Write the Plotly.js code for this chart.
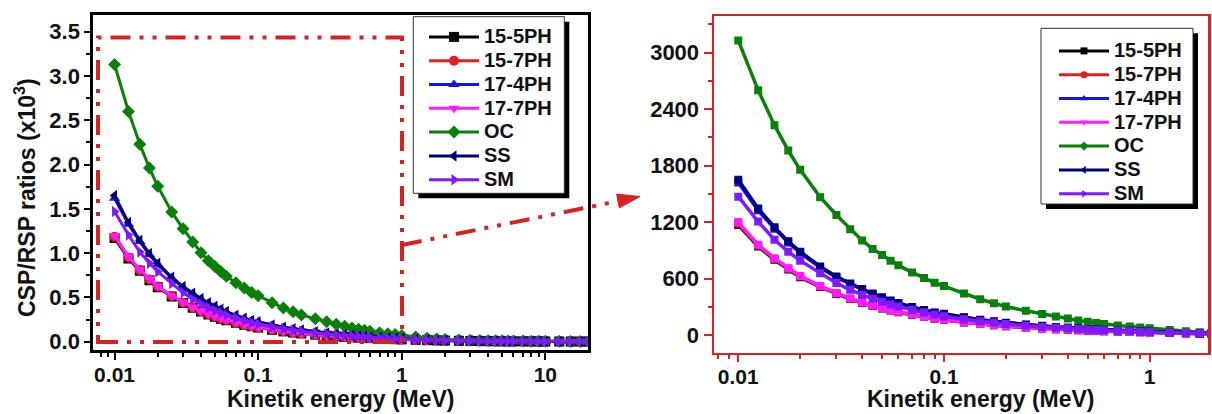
<!DOCTYPE html>
<html>
<head>
<meta charset="utf-8">
<script src="https://cdn.plot.ly/plotly-3.0.1.min.js"></script>
<style>html,body{margin:0;padding:0;background:#fff;}#chart{width:1212px;height:414px;}</style>
</head>
<body>
<div id="chart"></div>
<script>
// Kinetic energy (MeV)
const energy = [0.01,0.0125,0.015,0.0175,0.02,0.025,0.03,0.035,0.04,0.045,0.05,0.055,0.06,0.07,0.08,0.09,0.1,0.125,0.15,0.175,0.2,0.25,0.3,0.35,0.4,0.45,0.5,0.55,0.6,0.7,0.8,0.9,1,1.25,1.5,1.75,2,2.5,3,3.5,4,4.5,5,5.5,6,7,8,9,10,12.5,15,17.5,20];

// CSP/RSP ratios
const s155PH = [1170,940,800,695,615,510,436,382,340,308,282,260,242,213,190,173,159,134,116,103,93,79,68,60,54,50,46,43,40,35,31,28,25.5,20.5,17,14.5,12.7,9.8,8.1,6.9,6.0,5.4,4.8,4.4,4.0,3.4,3.0,2.7,2.4,2.0,1.75,1.55,1.4];
const s157PH = [1185,950,808,703,622,515,440,386,344,311,285,263,245,215,192,175,161,135,117,104,94,80,69,61,55,50,46.5,43.5,40.5,35.5,31.5,28.5,25.8,20.8,17.2,14.8,12.8,9.9,8.2,7.0,6.1,5.4,4.85,4.45,4.05,3.45,3.05,2.75,2.45,2.05,1.77,1.57,1.4];
const s174PH = [1620,1325,1130,982,873,718,612,540,480,433,394,362,335,293,261,236,221,185,160,142,128,109,95,84,76,69,63.5,58.5,54.5,48,43,39,35,28,23.5,19.5,16.5,13,10.8,9.3,8.1,7.2,6.5,5.9,5.4,4.7,4.1,3.7,3.3,2.7,2.3,2.05,1.85];
const s177PH = [1200,960,815,710,628,520,445,390,348,315,288,266,248,218,195,177,163,137,119,106,96,81,70,62,56,51,47,44,41,36,32,29,26,21,17.5,15,13,10,8.3,7.1,6.2,5.5,4.9,4.5,4.1,3.5,3.1,2.8,2.5,2.1,1.8,1.6,1.4];
const sOC   = [3130,2600,2230,1960,1755,1465,1275,1125,1005,915,850,790,740,665,605,555,520,440,380,337,302,258,224,196,174,155,141,128,118,102,90,80,71,53,40,30,24,19,15.5,13,11.5,10.2,9.2,8.4,7.7,6.7,5.9,5.3,4.8,3.9,3.3,2.9,2.6];
const sSS   = [1650,1345,1145,995,885,728,622,548,488,440,400,367,340,297,265,240,225,188,163,145,131,111,97,86,78,71,65,60,56,49,44,40,36,27,21,17,14.5,11.5,9.6,8.3,7.3,6.5,5.9,5.4,5.0,4.3,3.8,3.4,3.1,2.6,2.2,1.95,1.75];
const sSM   = [1470,1205,1012,885,790,656,552,480,426,385,352,325,302,266,238,216,200,168,146,130,117,99,86,76,69,63,58,54,50,44,39,35,32,25,20,16.5,14,11,9.2,7.9,7.0,6.3,5.7,5.2,4.8,4.1,3.6,3.3,3.0,2.5,2.1,1.9,1.7];

const seriesNames   = ['15-5PH','15-7PH','17-4PH','17-7PH','OC','SS','SM'];
const seriesValues  = [s155PH, s157PH, s174PH, s177PH, sOC, sSS, sSM];
const seriesColors  = ['#000000','#e01e1e','#1414e6','#ff1aff','#0a800a','#00007a','#7f1aff'];
const seriesSymbols = ['square','circle','triangle-up','triangle-down','diamond','triangle-left','triangle-right'];

const xTickVals = [0.01, 0.1, 1, 10];
const xTickText = ['0.01', '0.1', '1', '10'];

const W = 1212, H = 414;
const px = v => v / W;
const py = v => 1 - v / H;
const FONT = 'Liberation Sans, Arial, sans-serif';
const RED = '#d82222';

const legendName = n => '<span style="font-size:20px">' + n + '</span>';

const traces = [];
// left panel (values in x10^3)
seriesNames.forEach((n, i) => {
  traces.push({
    type: 'scatter', mode: 'lines+markers', name: legendName(n),
    x: energy, y: seriesValues[i].map(v => v / 1000),
    xaxis: 'x', yaxis: 'y', legend: 'legend',
    line: {color: seriesColors[i], width: 3},
    marker: {symbol: seriesSymbols[i], size: 10, color: seriesColors[i]}
  });
});
// right panel
seriesNames.forEach((n, i) => {
  traces.push({
    type: 'scatter', mode: 'lines+markers', name: n, showlegend: false,
    x: energy, y: seriesValues[i],
    xaxis: 'x2', yaxis: 'y2',
    line: {color: seriesColors[i], width: 3.5},
    marker: {symbol: 'square', size: 8, color: seriesColors[i]}
  });
});
// right legend entries
seriesNames.forEach((n, i) => {
  traces.push({
    type: 'scatter', mode: 'lines+markers', name: legendName(n),
    x: [null], y: [null], xaxis: 'x2', yaxis: 'y2', legend: 'legend2',
    line: {color: seriesColors[i], width: 3},
    marker: {symbol: seriesSymbols[i], size: 7, color: seriesColors[i]}
  });
});

const tickFont = {family: FONT, size: 22, color: '#111', weight: 'bold'};
const xTickFont = {family: FONT, size: 21, color: '#111', weight: 'bold'};
const titleFont = {family: FONT, size: 23, color: '#111', weight: 'bold'};

const dashPat = '20px,9px,4px,9px,4px,9px';

const shapes = [
  // dash-dot zoom rectangle
  {type: 'rect', xref: 'paper', yref: 'paper', x0: px(98), x1: px(402), y0: py(342), y1: py(37.5),
   line: {color: RED, width: 4, dash: dashPat}, layer: 'above'},
  {type: 'line', xref: 'paper', yref: 'paper', x0: px(402), y0: py(245), x1: px(624), y1: py(200),
   line: {color: RED, width: 4, dash: dashPat}, layer: 'above'},
  {type: 'path', xref: 'paper', yref: 'paper', layer: 'above',
   path: 'M' + px(640) + ',' + py(196.5) + ' L' + px(619.4) + ',' + py(207.9) + ' L' + px(616.6) + ',' + py(194.1) + ' Z',
   fillcolor: RED, line: {color: RED, width: 1}},
  // left legend box with shadow
  {type: 'rect', xref: 'paper', yref: 'paper', x0: px(418.3), x1: px(569.3), y0: py(198.3), y1: py(21.7),
   fillcolor: '#000', line: {width: 0}, layer: 'above'},
  {type: 'rect', xref: 'paper', yref: 'paper', x0: px(413.3), x1: px(564.3), y0: py(193.3), y1: py(16.7),
   fillcolor: '#fff', line: {color: '#333', width: 1}, layer: 'above'},
  // right legend box with shadow
  {type: 'rect', xref: 'paper', yref: 'paper', x0: px(1046), x1: px(1198), y0: py(209), y1: py(33.3),
   fillcolor: '#000', line: {width: 0}, layer: 'above'},
  {type: 'rect', xref: 'paper', yref: 'paper', x0: px(1041), x1: px(1193), y0: py(204), y1: py(28.3),
   fillcolor: '#fff', line: {color: '#333', width: 1}, layer: 'above'}
];

const annotations = [
  {xref: 'paper', yref: 'paper', x: px(25), y: py(198), text: 'CSP/RSP ratios (x10<sup>3</sup>)', textangle: -90,
   showarrow: false, font: titleFont, xanchor: 'center', yanchor: 'middle'},
  {xref: 'paper', yref: 'paper', x: px(341), y: py(414), text: 'Kinetik energy (MeV)',
   showarrow: false, font: titleFont, xanchor: 'center', yanchor: 'bottom'},
  {xref: 'paper', yref: 'paper', x: px(981), y: py(414), text: 'Kinetik energy (MeV)',
   showarrow: false, font: titleFont, xanchor: 'center', yanchor: 'bottom'}
];

const legendCommon = {
  xanchor: 'left', yanchor: 'top',
  bgcolor: 'rgba(0,0,0,0)', borderwidth: 0, itemwidth: 50,
  font: {family: FONT, size: 16, color: '#111', weight: 'bold'},
  tracegroupgap: 0, itemclick: false
};

const layout = {
  width: W, height: H,
  margin: {l: 0, r: 0, t: 0, b: 0},
  paper_bgcolor: '#fff', plot_bgcolor: '#fff',
  showlegend: true,
  xaxis: {
    type: 'log', domain: [px(93.3), px(588)], range: [-2.148, 1.297], anchor: 'y',
    tickvals: xTickVals, ticktext: xTickText, ticklabelstandoff: -3,
    showline: true, linecolor: '#000', linewidth: 3, mirror: true,
    ticks: 'outside', ticklen: 7, tickwidth: 2, tickcolor: '#000',
    minor: {ticks: 'outside', ticklen: 4, tickwidth: 2, tickcolor: '#000', tickvals: [0.008,0.009,0.02,0.03,0.04,0.05,0.06,0.07,0.08,0.09,0.2,0.3,0.4,0.5,0.6,0.7,0.8,0.9,2,3,4,5,6,7,8,9]},
    showgrid: false, zeroline: false, tickfont: xTickFont
  },
  yaxis: {
    domain: [py(350), py(15)], range: [-0.094, 3.689], anchor: 'x',
    tickmode: 'linear', tick0: 0, dtick: 0.5, tickformat: '.1f',
    showline: true, linecolor: '#000', linewidth: 3, mirror: true,
    ticks: 'outside', ticklen: 6, tickwidth: 2, tickcolor: '#000',
    minor: {ticks: 'outside', ticklen: 4, tickwidth: 2, tickcolor: '#000', dtick: 0.25, tick0: 0},
    showgrid: false, zeroline: false, tickfont: tickFont
  },
  xaxis2: {
    type: 'log', domain: [px(714), px(1208)], range: [-2.118, 0.2834], anchor: 'y2',
    tickvals: xTickVals, ticktext: xTickText, ticklabelstandoff: -3,
    showline: true, linecolor: RED, linewidth: 2.5, mirror: true,
    ticks: 'outside', ticklen: 7, tickwidth: 2, tickcolor: RED,
    minor: {ticks: 'outside', ticklen: 4, tickwidth: 2, tickcolor: RED, tickvals: [0.008,0.009,0.02,0.03,0.04,0.05,0.06,0.07,0.08,0.09,0.2,0.3,0.4,0.5,0.6,0.7,0.8,0.9]},
    showgrid: false, zeroline: false, tickfont: xTickFont
  },
  yaxis2: {
    domain: [py(352.5), py(16)], range: [-186, 3390], anchor: 'x2',
    tickmode: 'linear', tick0: 0, dtick: 600,
    showline: true, linecolor: RED, linewidth: 2.5, mirror: true,
    ticks: 'outside', ticklen: 8, tickwidth: 2, tickcolor: RED,
    minor: {ticks: 'outside', ticklen: 4, tickwidth: 2, tickcolor: RED, dtick: 300, tick0: 0},
    showgrid: false, zeroline: false, tickfont: tickFont
  },
  legend: Object.assign({x: px(424), y: py(20)}, legendCommon),
  legend2: Object.assign({x: px(1054), y: py(34)}, legendCommon),
  shapes: shapes,
  annotations: annotations
};

Plotly.newPlot('chart', traces, layout, {staticPlot: true, displayModeBar: false});
</script>
</body>
</html>
